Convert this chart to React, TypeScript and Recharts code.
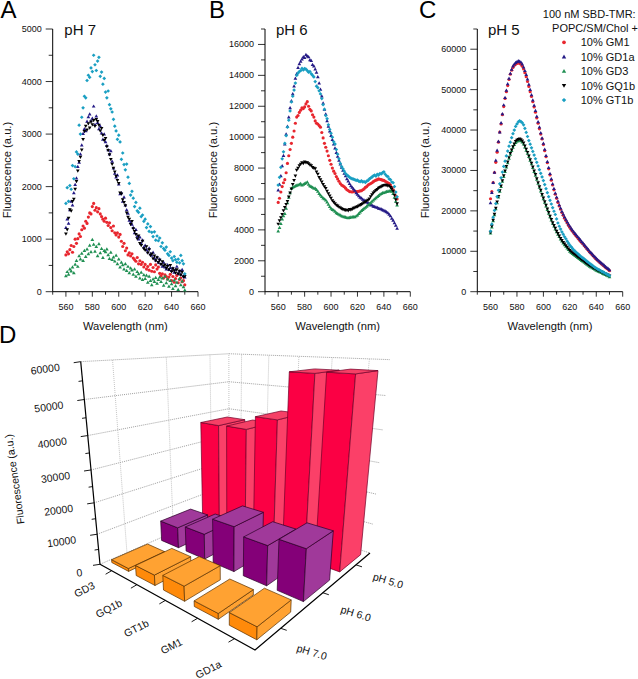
import React from 'react';
import { Customized, Scatter, ScatterChart, XAxis, YAxis } from 'recharts';

const FONT = '"Liberation Sans", Arial, sans-serif';

const wavelengths = [
  560, 561, 562, 563, 564, 565, 566, 567, 568, 569,
  570, 571, 572, 573, 574, 575, 576, 577, 578, 579,
  580, 581, 582, 583, 584, 585, 586, 587, 588, 589,
  590, 591, 592, 593, 594, 595, 596, 597, 598, 599,
  600, 601, 602, 603, 604, 605, 606, 607, 608, 609,
  610, 611, 612, 613, 614, 615, 616, 617, 618, 619,
  620, 621, 622, 623, 624, 625, 626, 627, 628, 629,
  630, 631, 632, 633, 634, 635, 636, 637, 638, 639,
  640, 641, 642, 643, 644, 645, 646, 647, 648, 649,
  650,
];

// pH 7
const ph7GM1 = [
  700, 760, 720, 800, 880, 750, 860, 1000, 920, 1010,
  1100, 1050, 1180, 1250, 1210, 1340, 1300, 1420, 1500, 1480,
  1620, 1680, 1550, 1600, 1520, 1580, 1480, 1430, 1380, 1340,
  1400, 1320, 1260, 1310, 1220, 1160, 1250, 1120, 1080, 1120,
  1040, 1090, 960, 860, 920, 780, 830, 700, 740, 680,
  720, 640, 610, 580, 650, 530, 590, 520, 560, 470,
  520, 430, 480, 410, 520, 390, 460, 380, 510, 430,
  470, 350, 300, 340, 260, 320, 290, 240, 280, 330,
  210, 290, 180, 250, 310, 170, 230, 260, 190, 210,
  130,
];
const ph7GD1a = [
  1220, 1380, 1300, 1560, 1720, 1650, 1880, 2040, 2160, 2380,
  2460, 2620, 2790, 3010, 3100, 3060, 3240, 3330, 3380, 3250,
  3300, 3530, 3180, 3340, 3220, 3100, 3150, 3020, 2900, 3000,
  2850, 2780, 2700, 2620, 2680, 2480, 2350, 2250, 2180, 2220,
  2050, 1860, 1880, 1720, 1800, 1650, 1560, 1490, 1360, 1320,
  1280, 1220, 1120, 1180, 1060, 1000, 1040, 920, 980, 850,
  880, 800, 760, 830, 720, 690, 750, 640, 600, 660,
  560, 620, 530, 480, 560, 470, 430, 510, 420, 460,
  400, 450, 370, 420, 480, 350, 390, 330, 420, 300,
  280,
];
const ph7GD3 = [
  300, 380, 330, 430, 390, 470, 360, 520, 590, 480,
  680, 620, 730, 590, 780, 670, 810, 720, 880, 760,
  990, 900, 770, 860, 680, 910, 740, 820, 650, 780,
  760, 810, 700, 630, 750, 610, 660, 580, 690, 530,
  620, 470, 560, 510, 430, 530, 400, 480, 360, 450,
  410, 330, 430, 290, 380, 340, 260, 370, 230, 320,
  250, 310, 180, 290, 210, 130, 240, 190, 270, 160,
  230, 280, 190, 260, 120, 290, 170, 240, 100, 210,
  150, 60, 220, 110, 180, 40, 250, 130, 200, 90,
  30,
];
const ph7GQ1b = [
  1100, 1180, 1400, 1560, 1540, 1720, 1760, 1950, 2100, 2300,
  2480, 2560, 2700, 2900, 3050, 3150, 3080, 3200, 3120, 3230,
  3180, 3260, 3150, 3280, 3240, 3170, 3060, 3110, 2980, 2880,
  2920, 2760, 2690, 2610, 2520, 2430, 2350, 2280, 2200, 2120,
  2060, 1880, 1860, 1750, 1700, 1640, 1500, 1420, 1380, 1280,
  1340, 1200, 1150, 1090, 1010, 1060, 920, 880, 960, 820,
  790, 860, 740, 800, 690, 720, 630, 680, 590, 650,
  560, 600, 520, 570, 490, 510, 450, 480, 420, 500,
  380, 440, 400, 360, 420, 340, 390, 320, 370, 280,
  290,
];
const ph7GT1b = [
  1680, 1980, 1720, 2020, 1950, 2400, 2150, 2380, 2660, 2620,
  3170, 3000, 3320, 3500, 3720, 3690, 4020, 4120, 4080, 4260,
  4190, 4500, 4320, 4210, 4390, 4460, 4100, 4180, 3950, 4060,
  3800, 3690, 3820, 3560, 3480, 3420, 3280, 3150, 3060, 2900,
  2980, 2850, 2520, 2640, 2420, 2320, 2430, 2180, 2060, 1840,
  1910, 1780, 1620, 1700, 1540, 1510, 1590, 1430, 1460, 1340,
  1380, 1220, 1290, 1150, 1240, 1130, 1050, 1140, 980, 1060,
  970, 1020, 860, 930, 820, 790, 850, 720, 690, 760,
  640, 590, 670, 610, 560, 620, 550, 690, 590, 530,
  340,
];

// pH 6
const ph6GM1 = [
  5780, 6050, 6450, 6800, 7050, 7250, 7700, 8300, 8800, 9200,
  9600, 10000, 10400, 10900, 11300, 11400, 11600, 11750, 11900, 11850,
  11960, 12150, 12300, 12000, 11800, 11700, 11450, 11300, 11050, 10900,
  10850, 10750, 10650, 10300, 9950, 9600, 9350, 9100, 8800, 8500,
  8250, 8000, 7800, 7650, 7450, 7300, 7150, 7000, 6900, 6850,
  6790, 6700, 6600, 6550, 6480, 6470, 6450, 6480, 6500, 6480,
  6480, 6500, 6520, 6530, 6600, 6650, 6750, 6800, 6900, 6950,
  7000, 7050, 7120, 7180, 7220, 7250, 7300, 7280, 7250, 7220,
  7200, 7150, 7100, 7050, 7000, 6900, 6750, 6600, 6450, 6200,
  6000,
];
const ph6GD1a = [
  6570, 6950, 7500, 8150, 8800, 9550, 10200, 10700, 11300, 11900,
  12350, 12800, 13300, 13800, 14100, 14500, 14750, 14900, 15050, 15200,
  15150, 15350, 15250, 15200, 15000, 14950, 14700, 14600, 14400, 14200,
  13900, 13500, 13100, 12650, 12200, 11800, 11500, 11050, 10700, 10400,
  10100, 9850, 9550, 9300, 9000, 8750, 8500, 8250, 8050, 7850,
  7650, 7500, 7300, 7150, 7000, 6850, 6750, 6650, 6550, 6400,
  6300, 6200, 6100, 6050, 5980, 5930, 5850, 5800, 5750, 5680,
  5620, 5600, 5520, 5500, 5470, 5450, 5400, 5380, 5350, 5300,
  5260, 5220, 5170, 5100, 5000, 4900, 4750, 4620, 4450, 4300,
  4100,
];
const ph6GD3 = [
  3920, 4150, 4400, 4700, 4900, 5060, 5400, 5750, 6100, 6400,
  6680, 6750, 6800, 6850, 6880, 6920, 6940, 7000, 6900, 6950,
  7000, 7050, 7100, 6950, 6850, 6800, 6750, 6700, 6680, 6600,
  6500, 6350, 6250, 6150, 6050, 6000, 5930, 5800, 5650, 5500,
  5400, 5320, 5280, 5200, 5100, 5050, 5000, 4950, 4900, 4880,
  4850, 4830, 4800, 4780, 4800, 4830, 4850, 4850, 4850, 4900,
  4950, 5050, 5150, 5250, 5320, 5390, 5450, 5520, 5600, 5680,
  5750, 5850, 5930, 6000, 6080, 6150, 6220, 6300, 6350, 6400,
  6420, 6450, 6470, 6500, 6520, 6530, 6500, 6350, 6100, 5850,
  5600,
];
const ph6GQ1b = [
  4380, 4600, 4800, 5000, 5250, 5450, 5650, 5850, 6140, 6400,
  6650, 6950, 7200, 7500, 7870, 8000, 8150, 8250, 8350, 8300,
  8400, 8350, 8350, 8280, 8200, 8150, 8050, 8000, 7970, 7750,
  7600, 7400, 7250, 7100, 6950, 6800, 6680, 6500, 6350, 6200,
  6050, 5900, 5800, 5700, 5600, 5550, 5480, 5420, 5380, 5330,
  5300, 5280, 5280, 5250, 5320, 5300, 5350, 5400, 5420, 5480,
  5500, 5560, 5600, 5650, 5700, 5760, 5820, 5880, 5930, 6000,
  6150, 6280, 6400, 6470, 6550, 6620, 6700, 6750, 6800, 6850,
  6880, 6900, 6900, 6850, 6850, 6750, 6650, 6500, 6250, 5950,
  5700,
];
const ph6GT1b = [
  6900, 7400, 8050, 8600, 9050, 9600, 10100, 10650, 11100, 11700,
  12280, 12650, 13050, 13500, 14000, 14150, 14250, 14300, 14450, 14350,
  14440, 14400, 14300, 14200, 14250, 14100, 14000, 13900, 13600, 13300,
  13200, 13000, 12800, 12500, 12100, 11800, 11400, 11200, 10800, 10500,
  10250, 10000, 9700, 9550, 9200, 8900, 8600, 8300, 8100, 7950,
  7800, 7650, 7550, 7480, 7400, 7350, 7300, 7280, 7250, 7200,
  7220, 7150, 7120, 7180, 7100, 7120, 7080, 7150, 7200, 7300,
  7350, 7420, 7500, 7540, 7480, 7600, 7550, 7650, 7620, 7700,
  7750, 7600, 7500, 7450, 7300, 7250, 7100, 7050, 6800, 6450,
  6140,
];

// pH 5
const ph5GM1 = [
  23000, 24800, 27000, 29500, 32000, 34500, 37000, 39500, 41500, 43800,
  45800, 47800, 49500, 51000, 52500, 53800, 54800, 55500, 56000, 56300,
  56500, 56600, 56500, 56300, 55800, 55100, 54200, 53200, 52000, 50800,
  49500, 48300, 47000, 45700, 44400, 43000, 41700, 40300, 39000, 37800,
  36400, 34900, 33400, 31900, 30400, 28900, 27600, 26400, 25200, 24100,
  23100, 22100, 21200, 20400, 19600, 18900, 18200, 17600, 17000, 16400,
  15900, 15400, 14950, 14500, 14100, 13700, 13300, 12900, 12500, 12100,
  11800, 11400, 11000, 10600, 10200, 9800, 9450, 9100, 8750, 8400,
  8050, 7750, 7450, 7150, 6850, 6600, 6300, 6000, 5750, 5500,
  5200,
];
const ph5GD1a = [
  22000, 24500, 27000, 29500, 32500, 35000, 37200, 39500, 41800, 44000,
  46200, 48000, 49800, 51400, 52800, 54000, 55000, 55800, 56300, 56700,
  56900, 57100, 57000, 56800, 56300, 55600, 54700, 53700, 52600, 51300,
  50000, 48700, 47400, 46100, 44800, 43400, 42000, 40700, 39300, 38000,
  36700, 35200, 33700, 32200, 30700, 29200, 27900, 26700, 25500, 24400,
  23400, 22400, 21500, 20700, 19900, 19200, 18500, 17900, 17300, 16700,
  16200, 15700, 15250, 14800, 14400, 14000, 13600, 13200, 12800, 12400,
  12000, 11600, 11200, 10800, 10400, 10000, 9650, 9300, 8950, 8600,
  8240, 7950, 7650, 7350, 7050, 6800, 6500, 6200, 5950, 5700,
  5400,
];
const ph5GD3 = [
  14500, 16000, 17500, 19000, 20500, 22000, 23400, 24800, 26000, 27300,
  28500, 29700, 30800, 31900, 33000, 34000, 34900, 35700, 36400, 36900,
  37200, 37400, 37500, 37300, 37000, 36500, 35800, 35000, 34200, 33400,
  32500, 31600, 30700, 29700, 28800, 27800, 26800, 25800, 24900, 23900,
  23000, 22100, 21200, 20300, 19400, 18500, 17700, 16900, 16200, 15500,
  14800, 14200, 13600, 13000, 12500, 12000, 11600, 11200, 10800, 10400,
  10000, 9700, 9450, 9200, 8950, 8700, 8450, 8200, 7950, 7700,
  7500, 7250, 7000, 6750, 6500, 6300, 6100, 5900, 5700, 5500,
  5300, 5150, 5000, 4850, 4700, 4500, 4350, 4200, 4050, 3900,
  3700,
];
const ph5GQ1b = [
  14700, 16200, 17700, 19200, 20700, 22200, 23600, 25000, 26200, 27500,
  28700, 29900, 31000, 32100, 33200, 34200, 35100, 35900, 36600, 37200,
  37500, 37700, 37800, 37600, 37300, 36800, 36100, 35300, 34500, 33600,
  32700, 31800, 30900, 29900, 29000, 28000, 27000, 26000, 25100, 24100,
  23200, 22300, 21400, 20500, 19600, 18700, 17900, 17100, 16400, 15700,
  15000, 14400, 13800, 13200, 12700, 12200, 11800, 11400, 11000, 10600,
  10200, 9900, 9650, 9400, 9150, 8900, 8650, 8400, 8150, 7900,
  7700, 7450, 7200, 6950, 6700, 6500, 6300, 6100, 5900, 5700,
  5500, 5350, 5200, 5050, 4900, 4700, 4550, 4400, 4250, 4100,
  3900,
];
const ph5GT1b = [
  15000, 16700, 18400, 20100, 21800, 23500, 25100, 26700, 28200, 29600,
  31000, 32300, 33600, 34800, 36000, 37000, 38100, 39100, 40000, 40900,
  41500, 42000, 42300, 42100, 41800, 41300, 40400, 39400, 38400, 37400,
  36500, 35600, 34700, 33800, 32900, 32000, 31100, 30200, 29300, 28400,
  27500, 26500, 25500, 24500, 23500, 22600, 21700, 20800, 19900, 19100,
  18000, 17000, 16200, 15500, 14800, 14200, 13600, 13100, 12500, 12000,
  11500, 11100, 10700, 10300, 10000, 9700, 9400, 9100, 8800, 8550,
  8300, 8050, 7800, 7500, 7250, 7000, 6750, 6500, 6250, 6000,
  5800, 5600, 5450, 5250, 5050, 4900, 4700, 4500, 4350, 4150,
  4000,
];

const seriesNames = ['10% GM1', '10% GD1a', '10% GD3', '10% GQ1b', '10% GT1b'];
const seriesColors = ['#e8262e', '#241a86', '#1f8f52', '#000000', '#1a9fc2'];
const seriesMarks = ['circle', 'up', 'up', 'down', 'diamond'];

const xTicks = [550, 560, 570, 580, 590, 600, 610, 620, 630, 640, 650, 660];
const yTicksA = [0, 500, 1000, 1500, 2000, 2500, 3000, 3500, 4000, 4500, 5000];
const yTicksB = [0, 1000, 2000, 3000, 4000, 5000, 6000, 7000, 8000, 9000, 10000, 11000, 12000, 13000, 14000, 15000, 16000, 17000];
const yTicksC = [0, 5000, 10000, 15000, 20000, 25000, 30000, 35000, 40000, 45000, 50000, 55000, 60000, 65000];

// panel D
const gangliosides = ['GD3', 'GQ1b', 'GT1b', 'GM1', 'GD1a'];
const phLabels = ['pH 7.0', 'pH 6.0', 'pH 5.0'];
const peakPh7 = [950, 3250, 4500, 1650, 3500];
const peakPh6 = [7100, 8400, 14400, 12300, 15300];
const peakPh5 = [37500, 37800, 42300, 56600, 57100];
const barTicksY = [0, 10000, 20000, 30000, 40000, 50000, 60000];

const drawMark = (kind: string, cx: number, cy: number, r: number, color: string) => {
  if (kind === 'circle') return <circle cx={cx} cy={cy} r={r * 0.85} fill={color} />;
  let pts = '';
  if (kind === 'up') pts = `${cx},${cy - r} ${cx + r},${cy + r * 0.75} ${cx - r},${cy + r * 0.75}`;
  if (kind === 'down') pts = `${cx},${cy + r} ${cx + r},${cy - r * 0.75} ${cx - r},${cy - r * 0.75}`;
  if (kind === 'diamond') pts = `${cx},${cy - r} ${cx + r},${cy} ${cx},${cy + r} ${cx - r},${cy}`;
  return <polygon points={pts} fill={color} />;
};

const makeXTick = (props: any) => {
  const { x, y, payload } = props;
  const major = payload.value % 20 === 0;
  return (
    <g>
      <line x1={x} x2={x} y1={y} y2={y + (major ? 5 : 3)} stroke="#000" strokeWidth={0.8} />
      {major && (
        <text x={x} y={y + 18} textAnchor="middle" fontSize={9} fontFamily={FONT} fill="#111">
          {payload.value}
        </text>
      )}
    </g>
  );
};

const makeYTick = (step: number) => (props: any) => {
  const { x, y, payload } = props;
  const major = payload.value % step === 0;
  return (
    <g>
      <line x1={x - (major ? 7 : 4)} x2={x} y1={y} y2={y} stroke="#000" strokeWidth={0.8} />
      {major && (
        <text x={x - 11} y={y + 3} textAnchor="end" fontSize={9} fontFamily={FONT} fill="#111">
          {payload.value}
        </text>
      )}
    </g>
  );
};

const LegendBox = () => (
  <g fontFamily={FONT} fill="#111" fontSize={11}>
    <text x={635.7} y={17.5} textAnchor="end">100 nM SBD-TMR:</text>
    <text x={638} y={31.5} textAnchor="end">POPC/SM/Chol +</text>
    {seriesNames.map((name, i) => (
      <g key={name}>
        {drawMark(seriesMarks[i], 564, 42.3 + i * 14.45, 2.2, seriesColors[i])}
        <text x={580.7} y={46.2 + i * 14.45}>{name}</text>
      </g>
    ))}
  </g>
);

interface PanelProps {
  letter: string;
  letterX: number;
  title: string;
  titleX: number;
  labelX: number;
  left: number;
  right: number;
  maxY: number;
  yTicks: number[];
  yStep: number;
  series: number[][];
  legend?: boolean;
}

const Y_AXIS_W = 40;
const X_AXIS_H = 20;

const Panel = ({ letter, letterX, title, titleX, labelX, left, right, maxY, yTicks, yStep, series, legend }: PanelProps) => {
  const PanelText = () => (
    <g fontFamily={FONT} fill="#111">
      <text x={letterX} y={18} fontSize={24} fill="#000">{letter}</text>
      <text x={titleX} y={35} fontSize={15}>{title}</text>
      <text x={labelX} y={170} fontSize={11.2} textAnchor="middle" transform={`rotate(-90 ${labelX} 170)`}>Fluorescence (a.u.)</text>
      <text x={(left + 638 - right) / 2} y={330} fontSize={11.2} textAnchor="middle">Wavelength (nm)</text>
    </g>
  );
  return (
    <div style={{ position: 'absolute', left: 0, top: 0 }}>
      <ScatterChart width={638} height={340} margin={{ top: 29, bottom: 48.3 - X_AXIS_H, left: left - Y_AXIS_W, right }}>
        <XAxis type="number" dataKey="x" domain={[550, 660]} ticks={xTicks} interval={0} height={X_AXIS_H} tickSize={0} tickMargin={0} tickLine={false} tick={makeXTick} axisLine={{ stroke: '#000', strokeWidth: 1 }} />
        <YAxis type="number" dataKey="y" domain={[0, maxY]} ticks={yTicks} interval={0} width={Y_AXIS_W} tickSize={0} tickMargin={0} tickLine={false} tick={makeYTick(yStep)} axisLine={{ stroke: '#000', strokeWidth: 1 }} />
        <Customized component={PanelText} />
        {series.map((values, i) => (
          <Scatter
            key={seriesNames[i]}
            name={seriesNames[i]}
            data={values.map((y, k) => ({ x: wavelengths[k], y }))}
            isAnimationActive={false}
            shape={(p: any) => drawMark(seriesMarks[i], p.cx, p.cy, 1.85, seriesColors[i])}
          />
        ))}
        {legend && <Customized component={LegendBox} />}
      </ScatterChart>
    </div>
  );
};

// perspective of the 3D box: floor corners and the height terms, in page pixels
const floorL = [100, 564.3];
const floorF = [255, 650];
const floorR = [370, 553];
const floorB = [229, 508];
const heightX = -29.7;
const heightY = -249.3;
const heightW = -0.129;

const dx1 = floorF[0] - floorR[0];
const dx2 = floorB[0] - floorR[0];
const dy1 = floorF[1] - floorR[1];
const dy2 = floorB[1] - floorR[1];
const sx = floorL[0] - floorF[0] + floorR[0] - floorB[0];
const sy = floorL[1] - floorF[1] + floorR[1] - floorB[1];
const den = dx1 * dy2 - dx2 * dy1;
const wu = (sx * dy2 - dx2 * sy) / den;
const wv = (dx1 * sy - sx * dy1) / den;

const project = (u: number, v: number, t: number) => {
  const w = wu * u + wv * v + 1 + heightW * t;
  const px = (floorF[0] - floorL[0] + wu * floorF[0]) * u + (floorB[0] - floorL[0] + wv * floorB[0]) * v + floorL[0] + heightX * t;
  const py = (floorF[1] - floorL[1] + wu * floorF[1]) * u + (floorB[1] - floorL[1] + wv * floorB[1]) * v + floorL[1] + heightY * t;
  return [px / w, py / w];
};

const pts = (list: number[][]) => list.map((p) => `${p[0].toFixed(1)},${p[1].toFixed(1)}`).join(' ');

const BOX_H = 679;
const BOX_W = 638;
const BAR_FILL = 0.7;

const barStyles = [
  { left: '#ff8a0a', right: '#ffa232', top: '#ffa232', edge: '#5a3000' },
  { left: '#840078', right: '#a0399a', top: '#a0399a', edge: '#2a0026' },
  { left: '#fb0044', right: '#fb4068', top: '#f54066', edge: '#6e0028' },
];

const Bar3D = (props: any) => {
  const { cx, cy, row } = props;
  const uMid = (cx / BOX_W) * gangliosides.length;
  const t = (BOX_H - cy) / BOX_H;
  const u0 = (uMid - BAR_FILL / 2) / gangliosides.length;
  const u1 = (uMid + BAR_FILL / 2) / gangliosides.length;
  const v0 = (row + 0.5 - BAR_FILL / 2) / phLabels.length;
  const v1 = (row + 0.5 + BAR_FILL / 2) / phLabels.length;
  const st = barStyles[row];
  return (
    <g stroke={st.edge} strokeWidth={0.7} strokeLinejoin="round">
      <polygon fill={st.left} points={pts([project(u0, v0, 0), project(u1, v0, 0), project(u1, v0, t), project(u0, v0, t)])} />
      <polygon fill={st.right} points={pts([project(u1, v0, 0), project(u1, v1, 0), project(u1, v1, t), project(u1, v0, t)])} />
      <polygon fill={st.top} points={pts([project(u0, v0, t), project(u1, v0, t), project(u1, v1, t), project(u0, v1, t)])} />
    </g>
  );
};

const gangliosideOffsets = [[-27, 19], [-28, 24], [-29, 28], [-26, 28], [-26, 31]];
const phOffsets = [[31, 24], [33, 21], [32, 16]];

const Frame3D = () => {
  const grid: React.ReactNode[] = [];
  const seg = (a: number[], b: number[], key: string, color = '#777') => (
    <line key={key} x1={a[0]} y1={a[1]} x2={b[0]} y2={b[1]} stroke={color} strokeWidth={0.7} strokeDasharray="1 1" />
  );
  barTicksY.forEach((tickValue, i) => {
    const t = tickValue / 60000;
    grid.push(seg(project(0, 0, t), project(0, 1, t), `l${i}`));
    grid.push(seg(project(0, 1, t), project(1, 1, t), `r${i}`));
  });
  phLabels.forEach((_, j) => {
    const v = (j + 0.5) / phLabels.length;
    grid.push(seg(project(0, v, 0), project(0, v, 1), `v${j}`, '#aaa'));
  });
  gangliosides.forEach((_, i) => {
    const u = (i + 0.5) / gangliosides.length;
    grid.push(seg(project(u, 1, 0), project(u, 1, 1), `u${i}`, '#aaa'));
  });
  grid.push(seg(project(0, 1, 0), project(0, 1, 1), 'back', '#aaa'));

  const axisTop = project(0, 0, 1);
  const ticksY = [];
  for (let k = 0; k <= 12; k++) {
    const p = project(0, 0, k / 12);
    const len = k % 2 === 0 ? 7 : 4;
    ticksY.push(<line key={k} x1={p[0]} y1={p[1]} x2={p[0] - len} y2={p[1] + len * 0.15} stroke="#000" strokeWidth={0.9} />);
  }
  return (
    <g fontFamily={FONT} fill="#111">
      {grid}
      <line x1={axisTop[0]} y1={axisTop[1]} x2={floorL[0]} y2={floorL[1]} stroke="#000" strokeWidth={1.2} />
      <polyline points={pts([floorL, floorF, floorR])} fill="none" stroke="#000" strokeWidth={1.2} />
      {ticksY}
      {barTicksY.map((value, i) => {
        const p = project(0, 0, value / 60000);
        const lx = p[0] - (i === 0 ? 20 : 35);
        const ly = p[1] + (i === 0 ? 12 : 11);
        return (
          <text key={value} x={lx} y={ly} textAnchor="middle" fontSize={10.5} transform={`rotate(-8 ${lx} ${ly})`}>{value}</text>
        );
      })}
      {gangliosides.map((name, i) => {
        const p = project((i + 0.5) / gangliosides.length, 0, 0);
        const lx = p[0] + gangliosideOffsets[i][0];
        const ly = p[1] + gangliosideOffsets[i][1];
        return (
          <g key={name}>
            <line x1={p[0]} y1={p[1]} x2={p[0] - 6} y2={p[1] + 3.5} stroke="#000" strokeWidth={0.9} />
            <text x={lx} y={ly + 3.5} textAnchor="middle" fontSize={10.5} transform={`rotate(-27 ${lx} ${ly})`}>{name}</text>
          </g>
        );
      })}
      {phLabels.map((name, j) => {
        const p = project(1, (j + 0.5) / phLabels.length, 0);
        const lx = p[0] + phOffsets[j][0];
        const ly = p[1] + phOffsets[j][1];
        return (
          <g key={name}>
            <line x1={p[0]} y1={p[1]} x2={p[0] + 6} y2={p[1] + 2} stroke="#000" strokeWidth={0.9} />
            <text x={lx} y={ly + 3.5} textAnchor="middle" fontSize={10.5} transform={`rotate(17 ${lx} ${ly})`}>{name}</text>
          </g>
        );
      })}
      <text x={18.3} y={478.7} textAnchor="middle" fontSize={10.5} transform="rotate(-98 18.3 478.7)">Fluorescence (a.u.)</text>
      <text x={-1} y={343} fontSize={24} fill="#000">D</text>
    </g>
  );
};

const barRows = [peakPh5, peakPh6, peakPh7];

const App = () => (
  <div style={{ position: 'absolute', left: 0, top: 0, width: 638, height: 679, background: '#fff', overflow: 'hidden' }}>
    <div style={{ position: 'absolute', left: 0, top: 0 }}>
      <ScatterChart width={BOX_W} height={BOX_H} margin={{ top: 0, bottom: 0, left: 0, right: 0 }}>
        <XAxis type="number" dataKey="g" domain={[0, gangliosides.length]} hide />
        <YAxis type="number" dataKey="value" domain={[0, 60000]} hide />
        <Customized component={Frame3D} />
        {barRows.map((values, r) => (
          <Scatter
            key={phLabels[2 - r]}
            name={phLabels[2 - r]}
            data={values.map((value, g) => ({ g: g + 0.5, value }))}
            isAnimationActive={false}
            shape={(p: any) => <Bar3D cx={p.cx} cy={p.cy} row={2 - r} />}
          />
        ))}
      </ScatterChart>
    </div>
    <Panel letter="A" letterX={0.5} title="pH 7" titleX={64.3} labelX={11} left={52.7} right={440} maxY={5000} yTicks={yTicksA} yStep={1000} series={[ph7GM1, ph7GD1a, ph7GD3, ph7GQ1b, ph7GT1b]} />
    <Panel letter="B" letterX={209} title="pH 6" titleX={276} labelX={217} left={265} right={227.7} maxY={17000} yTicks={yTicksB} yStep={2000} series={[ph6GM1, ph6GD1a, ph6GD3, ph6GQ1b, ph6GT1b]} />
    <Panel letter="C" letterX={419} title="pH 5" titleX={488} labelX={429} left={477.3} right={15.3} maxY={65000} yTicks={yTicksC} yStep={10000} series={[ph5GM1, ph5GD1a, ph5GD3, ph5GQ1b, ph5GT1b]} legend />
  </div>
);

export default App;
